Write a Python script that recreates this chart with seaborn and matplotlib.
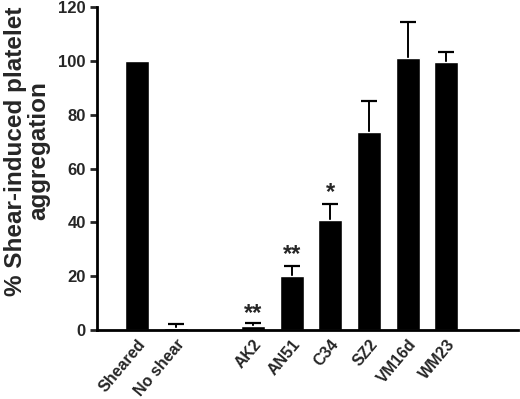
import seaborn as sns
import matplotlib.pyplot as plt
import pandas as pd

groups = ["Sheared", "No shear", "AK2", "AN51", "C34", "SZ2", "VM16d", "WM23"]
order = ["Sheared", "No shear", "", "AK2", "AN51", "C34", "SZ2", "VM16d", "WM23"]
values = [100, 0.9, 1.6, 20.1, 40.9, 73.6, 101.2, 99.6]
errors = [0, 1.3, 1.1, 3.7, 5.9, 11.5, 13.4, 3.8]
stars = {"AK2": ("**", 6.0), "AN51": ("**", 27.9), "C34": ("*", 51.0)}

df = pd.DataFrame({"group": groups, "value": values, "err": errors})
df["pos"] = [order.index(g) for g in groups]

sns.set_style("white")
plt.rcParams["font.family"] = ["Liberation Sans", "DejaVu Sans"]
plt.rcParams["font.weight"] = "bold"

fig = plt.figure(figsize=(5.2, 3.99), dpi=100)
ax = fig.add_axes([0.1865, 0.173, 0.8095, 0.809])

sns.barplot(data=df, x="group", y="value", order=order, color="black",
            width=0.62, saturation=1, errorbar=None, ax=ax, zorder=2)

# error bars only where there is one (Sheared is the 100% reference)
eb = df[df["err"] > 0]
ax.errorbar(eb["pos"], eb["value"], yerr=eb["err"], fmt="none", ecolor="black",
            elinewidth=1.4, capsize=6, capthick=1.6, zorder=1)

for g, (txt, y) in stars.items():
    ax.text(order.index(g), y, txt, ha="center", va="center",
            fontsize=17, fontweight="bold")

ax.set_ylim(0, 120)
ax.set_xlim(-1.04, 9.85)
ax.set_yticks(range(0, 121, 20))
ax.set_xlabel("")
ax.set_ylabel("% Shear-induced platelet\naggregation", fontsize=17.5,
              fontweight="bold", linespacing=1.0)
ax.yaxis.set_label_coords(-0.112, 0.555)
ax.set_xticks(range(len(order)))
ax.set_xticklabels(order, rotation=50, ha="right", rotation_mode="anchor",
                   fontsize=11.5, fontweight="bold")
ax.tick_params(axis="y", direction="out", length=5, width=2, labelsize=12,
               left=True, pad=3)
ax.tick_params(axis="x", length=0, pad=5)
sns.despine(ax=ax)
for s in ["left", "bottom"]:
    ax.spines[s].set_linewidth(2)
    ax.spines[s].set_color("black")
    ax.spines[s].set_zorder(3)

fig.savefig("out.png", dpi=100)
